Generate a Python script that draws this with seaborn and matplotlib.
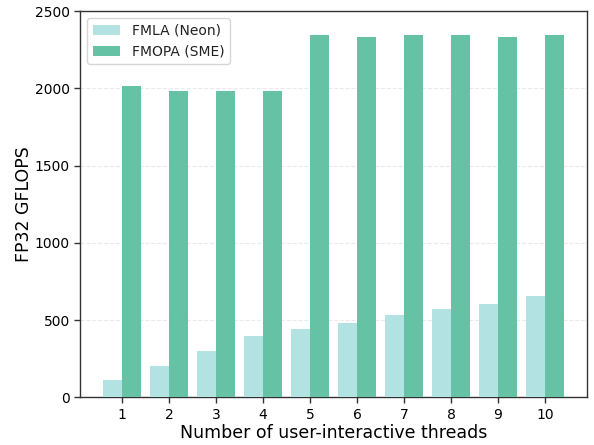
import matplotlib
matplotlib.use("Agg")
import matplotlib.pyplot as plt
import seaborn as sns
import pandas as pd

threads = [1, 2, 3, 4, 5, 6, 7, 8, 9, 10]
fmla_neon = [110, 200, 298, 395, 440, 479, 531, 570, 602, 654]
fmopa_sme = [2015, 1980, 1985, 1980, 2345, 2335, 2345, 2345, 2335, 2345]
series_names = ["FMLA (Neon)", "FMOPA (SME)"]
palette = ["#b3e2e2", "#66c2a5"]

df = pd.DataFrame({
    "threads": threads * 2,
    "gflops": fmla_neon + fmopa_sme,
    "kernel": [series_names[0]] * len(threads) + [series_names[1]] * len(threads),
})

sns.set_style("white")
plt.rcParams["font.family"] = ["DejaVu Sans"]
plt.rcParams["text.color"] = "black"
plt.rcParams["axes.labelcolor"] = "black"
plt.rcParams["xtick.color"] = "black"
plt.rcParams["ytick.color"] = "black"

fig, ax = plt.subplots(figsize=(5.94, 4.45), dpi=100)
fig.subplots_adjust(left=0.135, right=0.988, top=0.975, bottom=0.107)

sns.barplot(data=df, x="threads", y="gflops", hue="kernel", palette=palette,
            width=0.8, saturation=1, linewidth=0, edgecolor="none", ax=ax, zorder=3)

ax.set_xlim(-0.89, 9.89)
ax.set_ylim(0, 2500)
ax.set_yticks([0, 500, 1000, 1500, 2000, 2500])
ax.yaxis.grid(True, linestyle="--", color="#dddddd", linewidth=0.8, alpha=0.6, zorder=0)
ax.set_axisbelow(True)

for s in ax.spines.values():
    s.set_color("#333333")
    s.set_linewidth(1.0)

ax.tick_params(axis="both", which="both", labelsize=10, length=4, width=1,
               color="#333333", labelcolor="black", bottom=True, left=True)
ax.set_xlabel("Number of user-interactive threads", fontsize=12.5, color="black", labelpad=1.5)
ax.set_ylabel("FP32 GFLOPS", fontsize=12.5, color="black", labelpad=1.5)

leg = ax.legend(loc="upper left", fontsize=10, frameon=True, edgecolor="#cccccc",
                fancybox=True, title=None)
for t in leg.get_texts():
    t.set_color("#222222")

fig.savefig("out.png", dpi=100)
